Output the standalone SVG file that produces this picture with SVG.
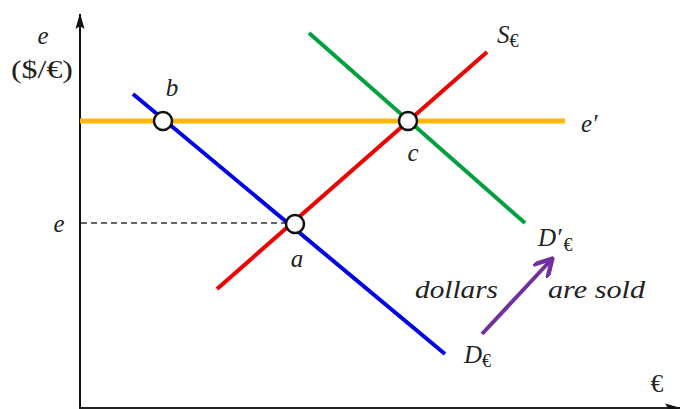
<svg xmlns="http://www.w3.org/2000/svg" width="680" height="409" viewBox="0 0 680 409">
<defs>
<style>
.lbl{font-family:"Liberation Serif","DejaVu Serif",serif;font-style:italic;font-size:25px;fill:#222}
.up{font-family:"Liberation Serif","DejaVu Serif",serif;font-size:25px;fill:#222}
.sub{font-family:"Liberation Serif","DejaVu Serif",serif;font-size:18px;fill:#222}
.curve{fill:none;stroke-width:4;stroke-linecap:butt}
.pt{fill:#fff;stroke:#111;stroke-width:2.5}
</style>
<marker id="ah" viewBox="0 0 16 10" refX="15" refY="5" markerWidth="16" markerHeight="10" markerUnits="userSpaceOnUse" orient="auto">
<path d="M0,0.5 L16,5 L0,9.5 L3,5 Z" fill="#111"/>
</marker>
<marker id="ph" viewBox="0 0 10 10" refX="8" refY="5" markerWidth="5" markerHeight="5" orient="auto">
<path d="M0,0 L9,5 L0,10" fill="none" stroke="#7030a0" stroke-width="2.2"/>
</marker>
</defs>
<rect width="680" height="409" fill="#fff"/>
<g id="axes">
<line x1="80" y1="409" x2="80" y2="14" stroke="#111" stroke-width="2" marker-end="url(#ah)"/>
<line x1="79" y1="408" x2="680" y2="408" stroke="#222" stroke-width="2" marker-end="url(#ah)"/>
<text class="lbl" x="43" y="44" text-anchor="middle">e</text>
<text class="up" x="11" y="78" textLength="62" lengthAdjust="spacingAndGlyphs">($/€)</text>
<text class="up" x="657" y="392" text-anchor="middle">€</text>
<text class="lbl" x="59" y="232" text-anchor="middle">e</text>
</g>
<g id="connectors">
<line id="e-prime-line" x1="80" y1="121" x2="565" y2="121" stroke="#ffb800" stroke-width="5"/>
<line id="dashed" x1="81" y1="223" x2="288" y2="223" stroke="#333" stroke-width="1.5" stroke-dasharray="6,4"/>
<line id="demand" class="curve" x1="133" y1="94" x2="445" y2="354" stroke="#0000e0"/>
<line id="supply" class="curve" x1="217" y1="289" x2="487" y2="52" stroke="#ee0000"/>
<line id="demand2" class="curve" x1="309" y1="33" x2="525" y2="223" stroke="#00a040"/>
<line id="shift" x1="482" y1="334" x2="551" y2="260" stroke="#7030a0" stroke-width="4" marker-end="url(#ph)"/>
</g>
<g id="node-b">
<circle class="pt" cx="163" cy="121" r="9"/>
<text class="lbl" x="172" y="96" text-anchor="middle">b</text>
</g>
<g id="node-c">
<circle class="pt" cx="408" cy="121" r="9"/>
<text class="lbl" x="413" y="161" text-anchor="middle">c</text>
</g>
<g id="node-a">
<circle class="pt" cx="295" cy="224" r="9"/>
<text class="lbl" x="297" y="267" text-anchor="middle">a</text>
</g>
<g id="labels">
<text x="497" y="43"><tspan class="lbl">S</tspan><tspan class="sub" dy="4">€</tspan></text>
<text class="lbl" x="581" y="132">e′</text>
<text x="538" y="246"><tspan class="lbl">D′</tspan><tspan class="sub" dy="5" dx="2">€</tspan></text>
<text x="464" y="363"><tspan class="lbl">D</tspan><tspan class="sub" dy="4">€</tspan></text>
<text class="lbl" x="415" y="298" textLength="83" lengthAdjust="spacingAndGlyphs">dollars</text>
<text class="lbl" x="548" y="298" textLength="97" lengthAdjust="spacingAndGlyphs">are sold</text>
</g>
</svg>
